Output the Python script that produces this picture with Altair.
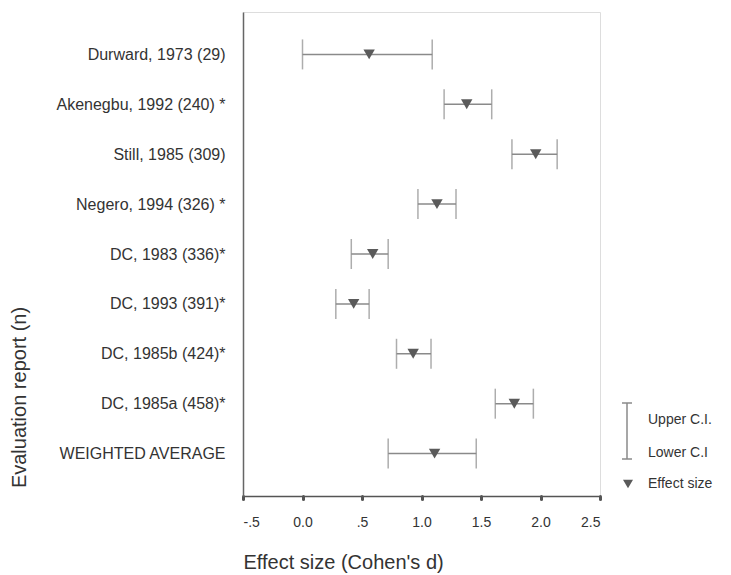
import altair as alt
import pandas as pd

studies = ["Durward, 1973 (29)", "Akenegbu, 1992 (240) *", "Still, 1985 (309)",
           "Negero, 1994 (326) *", "DC, 1983 (336)*", "DC, 1993 (391)*",
           "DC, 1985b (424)*", "DC, 1985a (458)*", "WEIGHTED AVERAGE"]
effect = [0.56, 1.38, 1.96, 1.13, 0.59, 0.43, 0.93, 1.78, 1.11]
lower = [0.0, 1.19, 1.76, 0.97, 0.41, 0.28, 0.79, 1.62, 0.72]
upper = [1.09, 1.59, 2.14, 1.29, 0.72, 0.56, 1.08, 1.94, 1.46]
x_ticks = [-0.5, 0.0, 0.5, 1.0, 1.5, 2.0, 2.5]

df = pd.DataFrame({"study": studies, "effect": effect, "lower": lower, "upper": upper})

FONT = "Liberation Sans"
LINE = "#8a8a8a"
MARK = "#5a5a5a"
TXT = "#333333"

xscale = alt.Scale(domain=[-0.5, 2.5], nice=False, zero=False)
yscale = alt.Scale(type="point", padding=0.85)

x_axis = alt.Axis(
    values=x_ticks,
    labelExpr="datum.value == 0 ? '0.0' : (datum.value == -0.5 ? '-.5' : (datum.value == 0.5 ? '.5' : format(datum.value, '.1f')))",
    title="Effect size (Cohen's d)", titleAnchor="start", titleAlign="left",
    titleX=0, titleY=66, titleBaseline="middle",
    titleFontSize=20, titleFontWeight="normal", titleColor=TXT, titleFont=FONT,
    labelFontSize=14, labelColor=TXT, labelFont=FONT, labelPadding=16,
    tickSize=3, tickWidth=3, tickCap="round", tickColor="#555555",
    domainColor="#555555", domainWidth=1.5, grid=False,
)
y_axis = alt.Axis(
    title="Evaluation report (n)", titleX=-224, titleY=385, titleAngle=-90,
    titleAlign="center", titleBaseline="middle",
    titleFontSize=20, titleFontWeight="normal", titleColor=TXT, titleFont=FONT,
    labelFontSize=16, labelColor=TXT, labelFont=FONT, labelPadding=18,
    ticks=False, domainColor="#666666", domainWidth=1.5, grid=False,
)

base = alt.Chart(df)
y_enc = alt.Y("study:N", sort=studies, scale=yscale, axis=y_axis)

ci_line = base.mark_rule(color=LINE, strokeWidth=1.5).encode(
    x=alt.X("lower:Q", scale=xscale, axis=x_axis), x2="upper:Q", y=y_enc)
cap_lo = base.mark_tick(color=LINE, thickness=1.5, size=30).encode(
    x=alt.X("lower:Q", scale=xscale), y=alt.Y("study:N", sort=studies, scale=yscale))
cap_hi = base.mark_tick(color=LINE, thickness=1.5, size=30).encode(
    x=alt.X("upper:Q", scale=xscale), y=alt.Y("study:N", sort=studies, scale=yscale))
pts = base.mark_point(shape="triangle-down", filled=True, size=130, color=MARK, opacity=1).encode(
    x=alt.X("effect:Q", scale=xscale), y=alt.Y("study:N", sort=studies, scale=yscale))

# legend (drawn outside plot area)
leg = alt.Chart(pd.DataFrame({"k": [0]}))
leg_bar = leg.mark_rule(color=LINE, strokeWidth=1.5).encode(
    x=alt.value(384), y=alt.value(391), y2=alt.value(447))
leg_cap1 = leg.mark_rule(color=LINE, strokeWidth=1.5).encode(
    x=alt.value(379), x2=alt.value(389), y=alt.value(391))
leg_cap2 = leg.mark_rule(color=LINE, strokeWidth=1.5).encode(
    x=alt.value(379), x2=alt.value(389), y=alt.value(447))
leg_tri = leg.mark_point(shape="triangle-down", filled=True, size=100, color=MARK, opacity=1).encode(
    x=alt.value(385), y=alt.value(472))
leg_t1 = leg.mark_text(align="left", baseline="middle", fontSize=14, font=FONT, color=TXT).encode(
    x=alt.value(405), y=alt.value(408), text=alt.value("Upper C.I."))
leg_t2 = leg.mark_text(align="left", baseline="middle", fontSize=14, font=FONT, color=TXT).encode(
    x=alt.value(405), y=alt.value(441), text=alt.value("Lower C.I"))
leg_t3 = leg.mark_text(align="left", baseline="middle", fontSize=14, font=FONT, color=TXT).encode(
    x=alt.value(405), y=alt.value(472), text=alt.value("Effect size"))

chart = alt.layer(
    ci_line, cap_lo, cap_hi, pts,
    leg_bar, leg_cap1, leg_cap2, leg_tri, leg_t1, leg_t2, leg_t3,
).properties(
    width=357, height=484,
    autosize=alt.AutoSizeParams(type="none"),
    padding={"left": 235, "top": 4, "right": 123, "bottom": 78},
).configure_view(
    stroke="#808080", strokeWidth=1.5
).configure(background="white")

chart.save("out.html", embed_options={"renderer": "svg", "actions": False})
